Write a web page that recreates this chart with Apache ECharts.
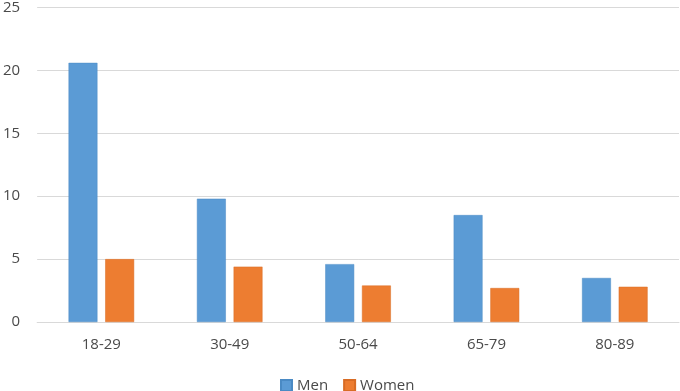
<!DOCTYPE html>
<html>
<head>
<meta charset="utf-8">
<script src="https://cdn.jsdelivr.net/npm/echarts@6/dist/echarts.min.js"></script>
<style>html,body{margin:0;padding:0;background:#fff}#c{width:680px;height:391px}</style>
</head>
<body>
<div id="c"></div>
<script>
var categories = ['18-29', '30-49', '50-64', '65-79', '80-89'];
var men = [20.6, 9.8, 4.6, 8.5, 3.5];
var women = [5.0, 4.4, 2.9, 2.7, 2.8];
var yTicks = [0, 5, 10, 15, 20, 25];

var chart = echarts.init(document.getElementById('c'), null, {renderer: 'canvas'});
var font = '"Open Sans", "Noto Sans", "DejaVu Sans", sans-serif';
var textColor = '#4a4a4a';
chart.setOption({
  animation: false,
  textStyle: {fontFamily: font},
  grid: {left: 33, right: 1, top: 6, bottom: 69, containLabel: false},
  legend: {
    top: 378, left: 280, padding: 0,
    itemWidth: 11, itemHeight: 11, itemGap: 15,
    icon: 'rect',
    textStyle: {color: textColor, fontSize: 15, fontFamily: font},
    data: ['Men', 'Women']
  },
  xAxis: {
    type: 'category', data: categories,
    axisLine: {lineStyle: {color: '#d9d9d9', width: 1}},
    axisTick: {show: false},
    axisLabel: {color: textColor, fontSize: 15, margin: 15, fontFamily: font}
  },
  yAxis: {
    type: 'value', min: yTicks[0], max: yTicks[yTicks.length - 1], interval: 5,
    axisLine: {show: false}, axisTick: {show: false},
    splitLine: {lineStyle: {color: '#d9d9d9', width: 1}},
    axisLabel: {color: textColor, fontSize: 15, margin: 17, fontFamily: font}
  },
  series: [
    {name: 'Men', type: 'bar', data: men, barWidth: '22.5%', barGap: '27%',
     itemStyle: {color: '#5b9bd5', borderColor: '#4a8ac4', borderWidth: 0.5}},
    {name: 'Women', type: 'bar', data: women, barWidth: '22.5%', barGap: '27%',
     itemStyle: {color: '#ed7d31', borderColor: '#d86c25', borderWidth: 0.5}}
  ]
});
</script>
</body>
</html>
